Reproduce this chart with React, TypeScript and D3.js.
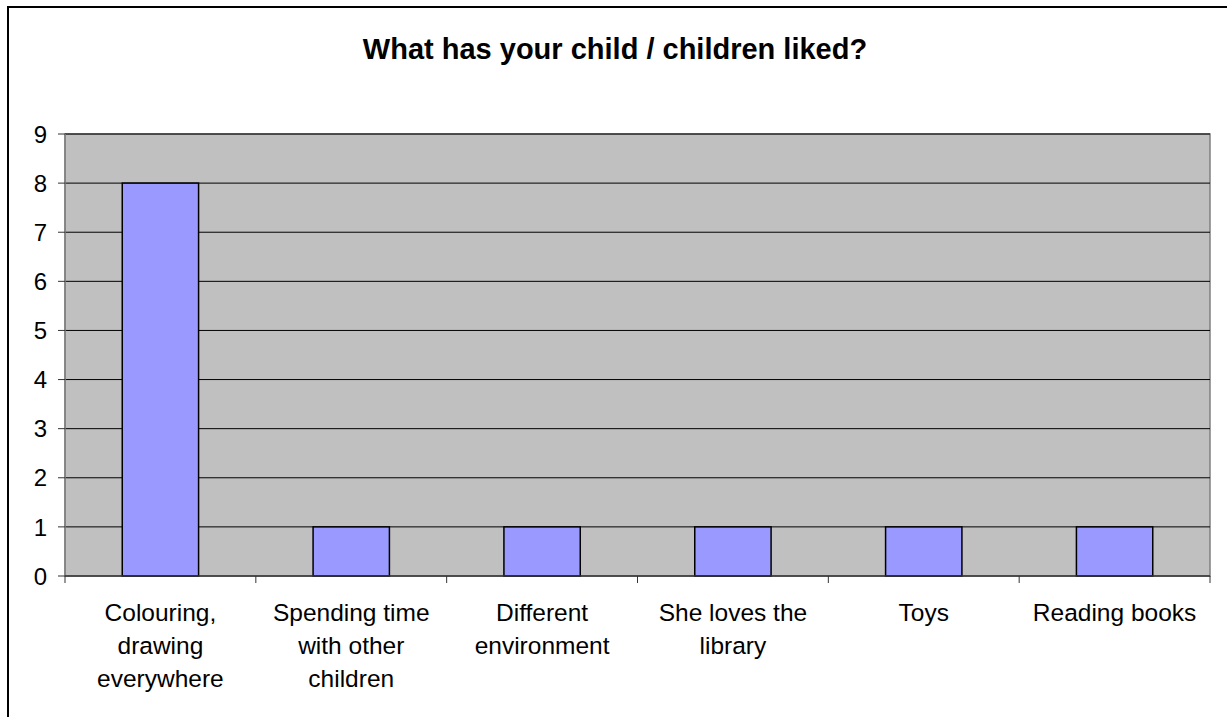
import React from "react";
import * as d3 from "d3";

const categories: string[][] = [
  ["Colouring,", "drawing", "everywhere"],
  ["Spending time", "with other", "children"],
  ["Different", "environment"],
  ["She loves the", "library"],
  ["Toys"],
  ["Reading books"],
];
const values: number[] = [8, 1, 1, 1, 1, 1];
const yTicks: number[] = [0, 1, 2, 3, 4, 5, 6, 7, 8, 9];
const title = "What has your child / children liked?";

export default function App() {
  const W = 1227;
  const H = 717;
  const left = 65;
  const right = 1210;
  const top = 134;
  const bottom = 576;
  const keys = categories.map((_, i) => String(i));
  const x = d3.scaleBand<string>().domain(keys).range([left, right]).paddingInner(0).paddingOuter(0);
  const y = d3.scaleLinear().domain([0, 9]).range([bottom, top]);
  const bw = x.bandwidth() * 0.4;
  const font = "Arial, 'Liberation Sans', sans-serif";
  return (
    <svg width={W} height={H} style={{ position: "absolute", left: 0, top: 0, background: "#fff" }}>
      <rect x={8} y={7} width={W + 20} height={H + 20} fill="#fff" stroke="#000" strokeWidth={2} />
      <text x={615} y={59} textAnchor="middle" fontFamily={font} fontWeight="bold" fontSize={29} fill="#000">
        {title}
      </text>
      <rect x={left} y={top} width={right - left} height={bottom - top} fill="#c0c0c0" stroke="#808080" strokeWidth={1.5} />
      {yTicks.filter((t) => t > 0).map((t) => (
        <line key={"g" + t} x1={left} x2={right} y1={y(t)} y2={y(t)} stroke="#000" strokeWidth={1} />
      ))}
      {values.map((v, i) => {
        const cx = (x(String(i)) as number) + x.bandwidth() / 2;
        return (
          <rect key={"b" + i} x={cx - bw / 2} y={y(v)} width={bw} height={y(0) - y(v)} fill="#9999ff" stroke="#000" strokeWidth={1.5} />
        );
      })}
      <line x1={left} x2={left} y1={top} y2={bottom} stroke="#808080" strokeWidth={1.5} />
      <line x1={left} x2={right} y1={bottom} y2={bottom} stroke="#333" strokeWidth={1.5} />
      {yTicks.map((t) => (
        <g key={"t" + t}>
          <line x1={58} x2={left} y1={y(t)} y2={y(t)} stroke="#333" strokeWidth={1} />
          <text x={47} y={y(t)} dy="0.36em" textAnchor="end" fontFamily={font} fontSize={24} fill="#000">
            {t}
          </text>
        </g>
      ))}
      {keys.map((k) => (
        <line key={"xt" + k} x1={x(k) as number} x2={x(k) as number} y1={bottom} y2={bottom + 7} stroke="#333" strokeWidth={1} />
      ))}
      <line x1={right} x2={right} y1={bottom} y2={bottom + 7} stroke="#333" strokeWidth={1} />
      {categories.map((lines, i) => {
        const cx = (x(String(i)) as number) + x.bandwidth() / 2;
        return (
          <text key={"c" + i} textAnchor="middle" fontFamily={font} fontSize={24.5} fill="#000">
            {lines.map((l, j) => (
              <tspan key={j} x={cx} y={621 + j * 33}>
                {l}
              </tspan>
            ))}
          </text>
        );
      })}
    </svg>
  );
}
